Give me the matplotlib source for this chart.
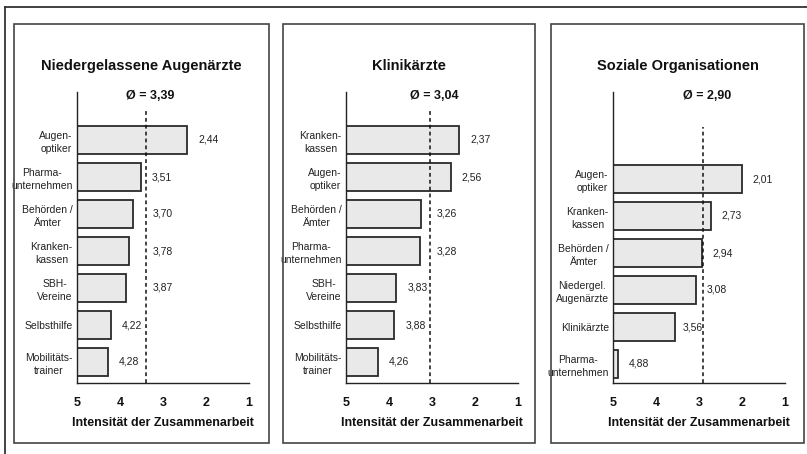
import matplotlib
matplotlib.use("Agg")
import matplotlib.pyplot as plt
from matplotlib.lines import Line2D
from matplotlib.patches import Rectangle

plt.rcParams['font.family'] = ['Liberation Sans', 'DejaVu Sans']

# data
titles = ["Niedergelassene Augenärzte", "Klinikärzte", "Soziale Organisationen"]
means = [3.39, 3.04, 2.90]

labels_augen = ["Augen-\noptiker", "Pharma-\nunternehmen", "Behörden /\nÄmter", "Kranken-\nkassen",
                "SBH-\nVereine", "Selbsthilfe", "Mobilitäts-\ntrainer"]
values_augen = [2.44, 3.51, 3.70, 3.78, 3.87, 4.22, 4.28]

labels_klinik = ["Kranken-\nkassen", "Augen-\noptiker", "Behörden /\nÄmter", "Pharma-\nunternehmen",
                 "SBH-\nVereine", "Selbsthilfe", "Mobilitäts-\ntrainer"]
values_klinik = [2.37, 2.56, 3.26, 3.28, 3.83, 3.88, 4.26]

labels_sozial = ["Augen-\noptiker", "Kranken-\nkassen", "Behörden /\nÄmter", "Niedergel.\nAugenärzte",
                 "Klinikärzte", "Pharma-\nunternehmen"]
values_sozial = [2.01, 2.73, 2.94, 3.08, 3.56, 4.88]

x_ticks = [5, 4, 3, 2, 1]
x_label = "Intensität der Zusammenarbeit"

W, H = 807, 454
fig = plt.figure(figsize=(W / 100, H / 100), dpi=100, facecolor='white')

# outer frame (top and left edge visible)
fig.add_artist(Line2D([5 / W, 1], [1 - 7 / H, 1 - 7 / H], transform=fig.transFigure, color='#333333', lw=1.3))
fig.add_artist(Line2D([5 / W, 5 / W], [0, 1 - 7 / H], transform=fig.transFigure, color='#333333', lw=1.3))

# layout per panel: box (l, t, r, b), axis left px, first bar centre px, dashed line start (axes frac)
panels = [
    ((14, 24, 269, 443), 77, 140, 0.94),
    ((283, 24, 535, 443), 346, 140, 0.94),
    ((551, 24, 804, 443), 613, 179, 0.88),
]
series = [(labels_augen, values_augen), (labels_klinik, values_klinik), (labels_sozial, values_sozial)]

ax_top, ax_bot, ax_w = 92, 383, 172
pitch = 37
px_per_unit = ax_w / 4

for (box, ax_l, first_c, dash_start), (labels, values), title, mean in zip(panels, series, titles, means):
    l, t, r, b = box
    fig.add_artist(Rectangle((l / W, 1 - b / H), (r - l) / W, (b - t) / H, transform=fig.transFigure,
                             fill=False, edgecolor='#444444', lw=1.2))
    fig.text((l + r) / 2 / W, 1 - 66 / H, title, ha='center', va='center', fontsize=10.5,
             fontweight='bold', color='#111111')

    ax = fig.add_axes([ax_l / W, 1 - ax_bot / H, ax_w / W, (ax_bot - ax_top) / H])
    top_lim = -(first_c - ax_top) / pitch
    ax.set_ylim(top_lim + (ax_bot - ax_top) / pitch, top_lim)
    ax.set_xlim(5, 1)

    ys = list(range(len(values)))
    ax.barh(ys, [5 - v for v in values], left=values, height=28 / pitch,
            color='#e9e9e9', edgecolor='#2a2a2a', linewidth=1.3)

    ax.axvline(mean, ymin=0, ymax=dash_start, color='#111111', lw=1.1, ls=(0, (2.5, 2)))
    ax.text(mean - 0.1, 0.985, "Ø = " + f"{mean:.2f}".replace('.', ','), transform=ax.get_xaxis_transform(),
            ha='center', va='center', fontsize=9, fontweight='bold', color='#111111')

    # value labels, moved off the dashed mean line
    gap, w = 11 / px_per_unit, 20 / px_per_unit
    for y, v in zip(ys, values):
        start = v - gap
        if start + 0.05 >= mean >= start - w:
            if start - mean < w / 2:
                start = mean - 6 / px_per_unit
            else:
                start = mean + 1 / px_per_unit + w
        ax.text(start, y, f"{v:.2f}".replace('.', ','), ha='left', va='center', fontsize=7.5, color='#222222')

    ax.set_yticks(ys)
    ax.set_yticklabels(labels, fontsize=7.5, multialignment='center', linespacing=1.35, color='#222222')
    ax.set_xticks(x_ticks)
    ax.set_xticklabels([str(v) for v in x_ticks], fontsize=9, fontweight='bold', color='#111111')
    ax.tick_params(axis='both', length=0)
    ax.tick_params(axis='x', pad=10)
    ax.tick_params(axis='y', pad=3)
    ax.set_xlabel(x_label, fontsize=9, fontweight='bold', color='#111111', labelpad=6)
    for side in ['top', 'right']:
        ax.spines[side].set_visible(False)
    for side in ['left', 'bottom']:
        ax.spines[side].set_color('#222222')
        ax.spines[side].set_linewidth(1.0)
    ax.set_facecolor('none')

fig.savefig('out.png', dpi=100, facecolor='white')
